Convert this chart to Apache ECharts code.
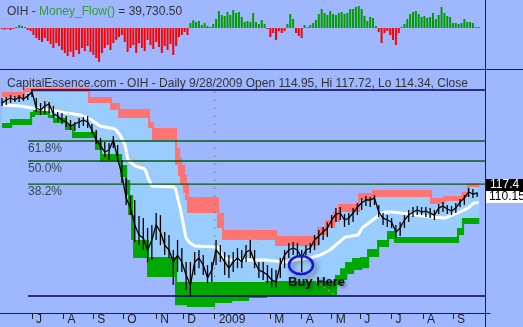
<!DOCTYPE html>
<html><head><meta charset="utf-8">
<script src="https://cdn.jsdelivr.net/npm/echarts@6/dist/echarts.min.js"></script>
<style>html,body{margin:0;padding:0;background:#9FB7FF;}#c{width:523px;height:327px;}</style>
</head><body><div id="c"></div>
<script>
// ---- axis ticks (trading-day index of month starts, index 0 = 2 Jun 2008) ----
const monthTickIdx = [21,43,64,85,108,127,149,188,210,231,251,273,295,316];
const monthLabels  = ['J','A','S','O','N','D','2009','M','A','M','J','J','A','S'];

// ---- Money_Flow() histogram, thousands, one bar every 2 trading days ----
const moneyFlowK = [-40,-60,-40,-80,-40,40,120,80,40,-80,
-120,-280,-400,-480,-560,-400,-520,-640,-800,-600,
-720,-880,-1000,-1120,-960,-1160,-880,-1040,-800,-920,
-720,-960,-1080,-1200,-1360,-1000,-800,-680,-880,-600,
-480,-360,-280,-560,-960,-800,-680,-1000,-600,-800,
-920,-480,-680,-840,-560,-760,-1000,-720,-880,-640,
-1080,-720,-360,-280,-160,-280,200,320,240,280,
120,200,80,40,160,360,680,520,480,640,
520,720,600,640,440,240,280,240,600,240,
160,320,160,-40,-360,-200,-480,-120,-200,-120,
160,560,360,-200,-320,-400,120,40,120,200,
320,560,760,600,520,680,560,520,600,640,
560,600,760,760,840,880,760,480,280,440,
400,80,-160,-600,-200,-120,-280,-480,-680,-200,
40,160,360,560,640,680,560,440,480,400,
440,600,360,520,840,600,480,440,200,200,
160,200,360,240,240,200,40,39.73];

// ---- OIH price, one sample every 3 trading days ----
const priceHigh = [222.5,224.0,227.0,225.5,227.0,228.5,228.5,234.8,222.5,215.1,
218.1,216.6,210.8,202.5,201.1,197.1,191.9,189.3,194.5,195.8,
197.1,186.8,179.4,170.0,165.5,164.4,172.3,162.2,146.6,129.9,
115.1,112.0,100.6,99.2,92.8,94.7,102.6,101.2,90.3,88.5,
80.0,85.6,81.1,73.8,73.8,78.9,80.0,77.3,72.3,73.8,
85.6,82.7,78.9,77.3,78.9,81.1,80.0,82.7,85.6,80.0,
73.8,73.8,72.3,70.8,69.9,75.8,80.0,83.9,84.4,83.9,
80.0,82.7,83.9,88.5,91.5,93.4,96.6,101.2,106.1,106.8,
101.9,102.6,106.1,109.8,113.5,115.1,114.3,115.8,108.3,102.6,
101.2,99.2,94.7,96.6,101.2,104.7,106.8,107.6,106.8,106.8,
106.1,104.7,109.0,110.5,108.3,107.6,109.8,112.8,115.8,121.4,
120.6,117.7];
const priceLow = [210.8,212.2,215.1,216.6,216.6,218.1,219.5,224.0,202.5,198.5,
199.8,201.1,194.5,189.3,186.8,183.0,179.4,178.2,181.8,184.3,
181.8,174.6,163.3,156.8,149.6,146.6,158.9,144.6,125.6,108.3,
101.2,84.4,82.7,80.0,73.8,74.8,85.6,82.7,77.3,75.8,
63.2,69.0,69.0,61.1,58.7,67.6,70.8,67.6,64.0,64.5,
72.3,73.8,67.6,66.3,69.0,70.8,70.8,73.8,75.8,70.8,
66.3,65.4,64.0,62.3,62.3,66.3,70.8,75.8,77.3,76.8,
69.0,77.3,78.4,80.0,82.7,85.6,87.3,92.8,96.6,97.9,
93.4,94.7,96.6,101.2,104.7,107.6,106.8,108.3,99.9,94.7,
93.4,92.8,86.7,87.9,92.8,96.6,99.9,101.2,101.2,99.9,
99.2,97.9,101.9,103.3,101.9,101.2,102.6,106.8,108.3,114.3,
113.5,114.3];
const priceClose = [215.1,219.5,222.5,219.5,224.0,221.0,225.5,231.6,208.0,205.2,
210.8,213.7,199.8,197.1,191.9,189.3,184.3,186.8,189.3,191.9,
189.3,179.4,167.7,161.1,154.7,156.8,167.7,148.6,132.5,113.5,
106.1,94.7,88.5,86.7,80.0,85.6,94.7,90.3,82.7,80.0,
73.8,77.3,73.8,67.6,63.2,73.8,75.8,72.3,66.3,69.9,
80.0,77.3,73.8,70.8,73.8,75.8,73.8,78.9,80.0,73.8,
69.9,69.0,67.6,65.4,64.5,72.3,77.3,80.0,81.1,80.0,
75.8,80.0,81.1,85.6,87.9,90.3,92.8,97.9,101.9,102.6,
97.9,99.2,102.6,106.8,109.8,112.0,112.0,113.5,103.3,99.2,
97.9,96.6,90.3,92.8,97.9,101.2,103.3,104.7,103.3,104.0,
102.6,101.2,106.1,107.6,105.4,104.0,106.1,110.5,113.5,118.2,
116.6,117.4];

// ---- upper (red) channel, step values starting at each index ----
const redIdx = [0,14.7,60.2,75.7,81.3,102.3,105.1,121.2,123.3,124.7,126.8,128.2,129.6,150.6,154.1,191.3,220.7,226.3,231.9,235.4,249.5,259.3,299.9,309.0,322.3,325.8];
const redTop = [231.6,238.0,224.0,215.1,206.6,189.3,181.8,158.9,149.6,141.7,132.5,125.6,114.3,102.6,91.5,87.9,93.4,97.9,103.3,109.0,117.4,119.8,113.5,115.1,118.2,125.6];
const redBot = [224.0,231.6,215.1,205.2,194.5,181.8,167.7,141.7,131.6,123.9,117.4,112.0,102.6,92.8,85.6,82.2,88.5,92.8,96.6,103.3,112.0,114.3,109.0,111.2,114.3,122.2];
// ---- lower (green) channel ----
const greenIdx = [0,5.6,19.6,21.7,32.2,35.7,44.1,49.0,65.1,68.7,82.7,86.2,88.3,90.4,91.8,101.6,121.2,129.6,147.8,159.8,171.7,184.3,233.3,236.9,240.4,245.3,250.9,255.8,262.8,269.8,274.7,318.8,322.3];
const greenTop = [188.0,193.2,202.5,205.2,198.5,194.5,185.5,177.0,167.7,152.6,141.7,128.1,115.8,101.2,85.6,76.3,64.5,64.5,64.5,64.5,64.5,64.9,67.6,70.8,73.8,75.8,76.3,80.5,85.6,90.9,87.3,92.8,99.2];
const greenBot = [181.8,185.5,195.8,198.5,194.5,188.0,179.4,170.0,156.8,144.6,130.7,115.8,101.2,85.6,75.8,66.7,55.2,54.5,56.0,56.8,57.9,58.7,63.2,65.4,68.1,69.9,70.8,76.3,81.6,86.1,83.9,88.5,95.3];
const bandEndIdx = 334.5;
// ---- middle (white) line ----
const midIdx = [0.7,12.6,21.0,33.6,45.5,54.6,61.6,68.7,79.2,82.7,86.2,88.3,93.2,100.2,102.3,105.1,121.2,122.6,124.7,126.8,128.9,131.7,135.2,151.3,154.1,159.8,184.3,198.3,205.3,215.8,222.8,229.8,234.7,240.4,249.5,252.3,257.9,263.5,268.4,273.3,285.9,299.9,310.4,315.3,320.9,326.5,330.7,334];
const midVal = [212.2,210.8,208.0,205.2,201.1,198.5,193.2,184.3,180.6,173.4,162.2,146.6,140.8,138.0,129.9,123.1,122.2,115.8,106.8,96.6,86.7,83.9,82.2,81.6,76.3,74.8,74.8,73.8,74.8,75.8,77.3,80.0,83.3,87.3,88.5,92.8,96.6,100.6,103.3,103.3,101.9,99.9,99.2,101.2,103.3,106.1,109.8,110.15];
// ---- dotted trend line ----
const trendIdx = [21.7,40.6,61.6,82.7,103.7,124.7,145.7,166.8,182.2,201.8,233.3];
const trendVal = [230.1,208.0,183.0,158.9,137.0,119.8,106.1,91.5,82.7,73.3,59.1];
// ---- Fibonacci levels ----
const fibLevels = [58.7,124.7,145.6,166.6,234.8];
const fibNames  = ['','38.2%','50.0%','61.8%',''];
const yearStartIdx = 149;
const lastIdx = 334, lastClose = 117.4, lastMid = 110.15;
const buyIdx = 209.5, buyPrice = 72.3;

const FONT = '"Liberation Sans", Arial, sans-serif';
const XMIN = -1.42, XMAX = 341.96, YMIN = 52.36, YMAX = 268.6;
const JOIN = 1.5; // width (in index units) of the joint between two channel steps

const chart = echarts.init(document.getElementById('c'), null, {renderer:'canvas'});

// edge of a stepped channel; the upper edge changes late when falling / early when rising,
// the lower edge the other way round, so successive steps stay joined like a thick stroke
function edge(api, xs, vals, isUpper){
  const pts = [api.coord([xs[0], vals[0]])];
  for (let i=1;i<xs.length;i++){
    const prev = vals[i-1], next = vals[i];
    const late = isUpper ? next < prev : next > prev;
    const x = late ? xs[i] + JOIN : xs[i];
    pts.push(api.coord([x, prev]), api.coord([x, next]));
  }
  pts.push(api.coord([bandEndIdx, vals[vals.length-1]]));
  return pts;
}
function bandSeries(name, xsT, t, xsB, b, color, z){
  return {type:'custom', name, xAxisIndex:1, yAxisIndex:1, silent:true, z,
    data:[[100,100]],
    renderItem:(p, api)=>({type:'polygon',
      shape:{points: edge(api, xsT, t, true).concat(edge(api, xsB, b, false).reverse())},
      style:{fill:color}})};
}

const series = [];
series.push({type:'bar', xAxisIndex:0, yAxisIndex:0, barWidth:2, silent:true,
  data: moneyFlowK.map((v,k)=>[2*k, v]),
  itemStyle:{color:(p)=> p.value[1] >= 0 ? '#009C00' : '#FF0000'}});
series.push(bandSeries('fill', redIdx, redTop, greenIdx, greenBot, '#99CCFF', 1));
series.push(bandSeries('upper', redIdx, redTop, redIdx, redBot, '#FF7373', 2));
series.push(bandSeries('lower', greenIdx, greenTop, greenIdx, greenBot, '#00A800', 3));
series.push({type:'line', xAxisIndex:1, yAxisIndex:1, symbol:'none', silent:true, z:4,
  data: midIdx.map((x,i)=>[x, midVal[i]]), lineStyle:{color:'#FFFFFF', width:3}});
series.push({type:'line', xAxisIndex:1, yAxisIndex:1, symbol:'none', silent:true, z:5,
  data: trendIdx.map((x,i)=>[x, trendVal[i]]), lineStyle:{color:'#E9A77A', width:1, type:[2,3]}});
fibLevels.forEach((v,i)=>{
  const outer = (i===0 || i===fibLevels.length-1);
  series.push({type:'line', xAxisIndex:1, yAxisIndex:1, symbol:'none', silent:true, z:6,
    data:[[i===fibLevels.length-1 ? 20.3 : 18.2, v],[338.4, v]],
    lineStyle:{color: outer ? '#00005E' : '#0B5A0B', width:1.3}});
});
series.push({type:'line', xAxisIndex:1, yAxisIndex:1, symbol:'none', silent:true, z:6,
  data:[[yearStartIdx, 232],[yearStartIdx, YMIN]], lineStyle:{color:'#555', width:1, type:[1,7]}});
series.push({type:'custom', xAxisIndex:1, yAxisIndex:1, silent:true, z:7,
  data: priceHigh.map((h,i)=>[3*i, priceLow[i], h]),
  renderItem:(p, api)=>{
    const a = api.coord([api.value(0), api.value(1)]), b = api.coord([api.value(0), api.value(2)]);
    return {type:'line', shape:{x1:a[0], y1:a[1], x2:b[0], y2:b[1]}, style:{stroke:'#000', lineWidth:1.3}};
  }});
series.push({type:'line', xAxisIndex:1, yAxisIndex:1, symbol:'none', silent:true, z:8,
  data: priceClose.map((c,i)=>[3*i, c]), lineStyle:{color:'#000', width:1.3}});

const option = {
  backgroundColor:'#9FB7FF',
  animation:false,
  title:[
    {text:'{a|OIH - }{b|Money_Flow()}{a| = 39,730.50}', left:2, top:1,
     textStyle:{fontWeight:'normal', fontSize:12,
       rich:{a:{color:'#333', fontSize:12, fontWeight:'normal', fontFamily:FONT},
             b:{color:'#3A9A3A', fontSize:12, fontWeight:'normal', fontFamily:FONT}}}},
    {text:'CapitalEssence.com - OIH - Daily 9/28/2009 Open 114.95, Hi 117.72, Lo 114.34, Close', left:2, top:73,
     textStyle:{color:'#333', fontSize:12, fontWeight:'normal', fontFamily:FONT}}
  ],
  grid:[
    {left:0, right:33, top:2, height:66},
    {left:0, right:33, top:70, bottom:14}
  ],
  xAxis:[
    {type:'value', gridIndex:0, min:XMIN, max:XMAX, show:false},
    {type:'value', gridIndex:1, min:XMIN, max:XMAX,
     splitLine:{show:false},
     axisLine:{show:true, onZero:false, lineStyle:{color:'#222', width:1}},
     axisTick:{show:true, length:6, customValues:monthTickIdx, lineStyle:{color:'#222'}},
     axisLabel:{show:true, customValues:monthTickIdx, margin:1, align:'left', padding:[0,0,0,4],
       color:'#222', fontSize:12, fontFamily:FONT,
       formatter:(v)=>{ const i = monthTickIdx.indexOf(Math.round(v)); return i>=0 ? monthLabels[i] : ''; }}}
  ],
  yAxis:[
    {type:'value', gridIndex:0, min:-1600, max:1040, show:false},
    {type:'log', gridIndex:1, min:YMIN, max:YMAX, show:false}
  ],
  series
};
chart.setOption(option);

const toPx = (x,y)=>chart.convertToPixel({xAxisIndex:1, yAxisIndex:1}, [x,y]);
const g = [];
g.push({type:'line', shape:{x1:0, y1:69.5, x2:523, y2:69.5}, style:{stroke:'#1E1E2E', lineWidth:1}, z:50});
g.push({type:'line', shape:{x1:485.5, y1:0, x2:485.5, y2:327}, style:{stroke:'#1E1E2E', lineWidth:1}, z:50});
fibLevels.forEach((v,i)=>{
  if (!fibNames[i]) return;
  const y = toPx(18.2, v)[1];
  g.push({type:'text', x:28, y:y+2, style:{text:fibNames[i], fill:'#2E4A4A', font:'12px '+FONT, textVerticalAlign:'top'}, z:50});
});
const pc = toPx(lastIdx, lastClose)[1];
const pm = toPx(lastIdx, lastMid)[1];
g.push({type:'rect', shape:{x:486, y:pc-14, width:37, height:12}, style:{fill:'#000'}, z:50});
g.push({type:'text', x:490, y:pc-8, style:{text:String(lastClose), fill:'#fff', font:'12px '+FONT, textVerticalAlign:'middle'}, z:51});
g.push({type:'rect', shape:{x:486, y:pm-11.5, width:37, height:12}, style:{fill:'#fff'}, z:50});
g.push({type:'text', x:489, y:pm-5.5, style:{text:String(lastMid), fill:'#000', font:'12px '+FONT, textVerticalAlign:'middle'}, z:51});
const bp = toPx(buyIdx, buyPrice);
g.push({type:'ellipse', shape:{cx:bp[0], cy:bp[1], rx:12, ry:9},
  style:{fill:'none', stroke:'#1414E0', lineWidth:2.5, shadowBlur:5, shadowColor:'rgba(40,40,40,0.55)', shadowOffsetX:3, shadowOffsetY:3}, z:52});
const tp = toPx(200.4, 64.5);
g.push({type:'text', x:tp[0], y:tp[1], style:{text:'Buy Here', fill:'#111', font:'bold 13px '+FONT, textVerticalAlign:'middle',
  textShadowColor:'rgba(40,40,40,0.5)', textShadowBlur:3, textShadowOffsetX:2, textShadowOffsetY:2}, z:52});
chart.setOption({graphic:g});
</script></body></html>
